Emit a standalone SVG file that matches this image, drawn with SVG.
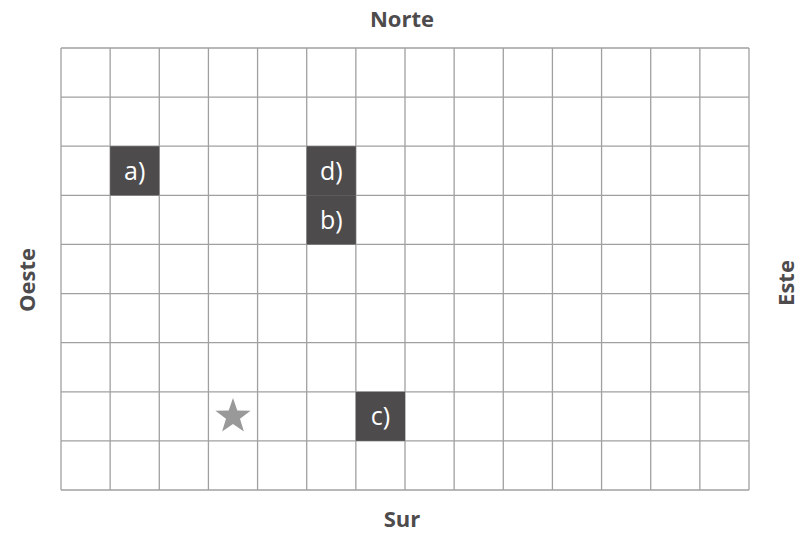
<svg xmlns="http://www.w3.org/2000/svg" width="809" height="534" viewBox="0 0 809 534">
<style>
.grid line{stroke:#a0a0a0;stroke-width:1.3}
.cell{fill:#4d4b4c}
.lbl{font-family:"Open Sans","Liberation Sans",sans-serif;font-size:25px;fill:#ffffff;text-anchor:middle}
.dir{font-family:"Open Sans","Liberation Sans",sans-serif;font-size:22px;font-weight:bold;fill:#4d4b4c;text-anchor:middle}
</style>
<rect width="809" height="534" fill="#ffffff"/>
<g id="grid" class="grid">
<line x1="61" y1="48" x2="61" y2="490"/>
<line x1="110.14" y1="48" x2="110.14" y2="490"/>
<line x1="159.29" y1="48" x2="159.29" y2="490"/>
<line x1="208.43" y1="48" x2="208.43" y2="490"/>
<line x1="257.57" y1="48" x2="257.57" y2="490"/>
<line x1="306.71" y1="48" x2="306.71" y2="490"/>
<line x1="355.86" y1="48" x2="355.86" y2="490"/>
<line x1="405" y1="48" x2="405" y2="490"/>
<line x1="454.14" y1="48" x2="454.14" y2="490"/>
<line x1="503.29" y1="48" x2="503.29" y2="490"/>
<line x1="552.43" y1="48" x2="552.43" y2="490"/>
<line x1="601.57" y1="48" x2="601.57" y2="490"/>
<line x1="650.71" y1="48" x2="650.71" y2="490"/>
<line x1="699.86" y1="48" x2="699.86" y2="490"/>
<line x1="749" y1="48" x2="749" y2="490"/>
<line x1="61" y1="48" x2="749" y2="48"/>
<line x1="61" y1="97.11" x2="749" y2="97.11"/>
<line x1="61" y1="146.22" x2="749" y2="146.22"/>
<line x1="61" y1="195.33" x2="749" y2="195.33"/>
<line x1="61" y1="244.44" x2="749" y2="244.44"/>
<line x1="61" y1="293.56" x2="749" y2="293.56"/>
<line x1="61" y1="342.67" x2="749" y2="342.67"/>
<line x1="61" y1="391.78" x2="749" y2="391.78"/>
<line x1="61" y1="440.89" x2="749" y2="440.89"/>
<line x1="61" y1="490" x2="749" y2="490"/>
</g>
<g id="node-a">
<rect class="cell" x="110.14" y="146.22" width="49.14" height="49.11"/>
<text class="lbl" x="134.7" y="179.5">a)</text>
</g>
<g id="node-d">
<rect class="cell" x="306.71" y="146.22" width="49.14" height="49.11"/>
<text class="lbl" x="331.3" y="179.5">d)</text>
</g>
<g id="node-b">
<rect class="cell" x="306.71" y="195.33" width="49.14" height="49.11"/>
<text class="lbl" x="331.3" y="228.6">b)</text>
</g>
<g id="node-c">
<rect class="cell" x="355.86" y="391.78" width="49.14" height="49.11"/>
<text class="lbl" x="380.4" y="425">c)</text>
</g>
<g id="star">
<polygon fill="#999999" points="233,398 237.3,410.6 250.6,410.8 240,418.8 243.9,431.5 233,423.9 222.1,431.5 226,418.8 215.4,410.8 228.7,410.6"/>
</g>
<g id="labels">
<text class="dir" x="402" y="27">Norte</text>
<text class="dir" x="402" y="527">Sur</text>
<text class="dir" transform="translate(35,280) rotate(-90)">Oeste</text>
<text class="dir" transform="translate(794,283) rotate(-90)">Este</text>
</g>
<g id="connectors"></g>
</svg>
